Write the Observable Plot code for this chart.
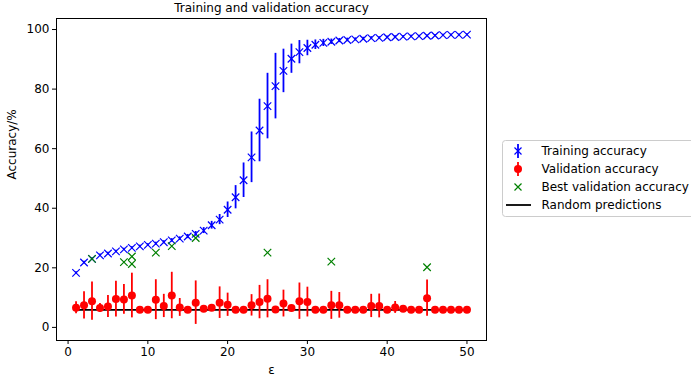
<!DOCTYPE html>
<html><head><meta charset="utf-8">
<script src="https://cdn.jsdelivr.net/npm/d3@7"></script>
<script src="https://cdn.jsdelivr.net/npm/@observablehq/plot@0.6"></script>
<style>
html,body{margin:0;padding:0;background:#fff;overflow:hidden}
#wrap{position:relative;width:691px;height:378px;font-family:"DejaVu Sans",sans-serif}
#legend{position:absolute;left:0;top:0}
</style></head><body><div id="wrap"></div><script>
const epochs = [1,2,3,4,5,6,7,8,9,10,11,12,13,14,15,16,17,18,19,20,21,22,23,24,25,26,27,28,29,30,31,32,33,34,35,36,37,38,39,40,41,42,43,44,45,46,47,48,49,50];
const trainAcc = [18.3,21.8,23.0,24.2,24.8,25.5,26.2,26.7,27.2,27.7,28.1,28.6,29.2,29.8,30.5,31.4,32.5,34.3,36.2,39.5,43.7,49.4,57.1,66.1,74.3,81.0,86.1,90.2,92.4,93.8,94.9,95.5,95.9,96.3,96.5,96.7,96.9,97.1,97.2,97.4,97.5,97.6,97.7,97.8,97.9,98.0,98.1,98.2,98.2,98.3];
const trainErr = [0.4,0.4,0.4,0.4,0.4,0.4,0.4,0.4,0.4,0.4,0.5,0.5,0.6,0.6,0.7,0.8,1.0,1.3,1.7,2.6,3.9,5.8,8.5,10.5,11.0,11.0,7.3,4.9,3.9,2.6,1.6,1.2,0.9,0.7,0.6,0.5,0.5,0.5,0.4,0.4,0.4,0.4,0.4,0.3,0.3,0.3,0.3,0.3,0.3,0.3];
const valAcc = [6.6,7.4,8.8,6.5,7.0,9.5,9.4,10.7,5.9,5.9,9.3,7.2,10.7,6.7,5.9,8.3,6.3,6.6,8.3,7.6,5.9,5.9,7.4,8.5,9.6,6.0,8.0,6.5,8.8,8.5,5.9,5.9,7.4,7.4,5.9,5.9,5.9,7.2,7.2,5.9,6.7,6.3,5.9,5.9,9.8,5.9,5.9,5.9,5.9,5.9];
const valErr = [2.0,4.6,6.4,1.5,3.7,6.0,5.0,7.5,0,0,6.7,3.9,7.8,3.0,0,7.3,0,1.0,5.3,3.9,0,0,3.6,5.6,6.4,0,4.5,0,6.1,5.0,0,0,4.7,4.3,0,0,0,3.9,4.0,0,2.0,0,0,0,6.1,0,0,0,0,0];
const bestEpoch = [3,7,8,8,11,13,16,25,33,45];
const bestAcc = [23.0,21.9,23.8,21.3,25.1,27.3,30.0,25.1,22.1,20.2];
const randomLevel = 5.9;
const xTicks = [0,10,20,30,40,50];
const yTicks = [0,20,40,60,80,100];
const legendLabels = ["Training accuracy","Validation accuracy","Best validation accuracy","Random predictions"];

const train = epochs.map((e,i)=>({e, y:trainAcc[i], lo:trainAcc[i]-trainErr[i], hi:trainAcc[i]+trainErr[i]}));
const val = epochs.map((e,i)=>({e, y:valAcc[i], lo:valAcc[i]-valErr[i], hi:valAcc[i]+valErr[i]}));
const best = bestEpoch.map((e,i)=>({e, y:bestAcc[i]}));

const chart = Plot.plot({
  width: 691, height: 378,
  marginLeft: 56, marginRight: 205, marginTop: 18, marginBottom: 38,
  style: {fontFamily: "DejaVu Sans, sans-serif", fontSize: "12px", color: "black", background: "white"},
  x: {domain: [-1.45, 52.45]},
  y: {domain: [-4.4, 103.7]},
  marks: [
    Plot.frame({stroke: "black", strokeWidth: 1}),
    Plot.axisX({ticks: xTicks, tickSize: 4, tickPadding: 3, fontSize: 12, label: null}),
    Plot.axisY({ticks: yTicks, tickSize: 4, tickPadding: 3, fontSize: 12, label: null}),
    Plot.ruleX(train, {x: "e", y1: "lo", y2: "hi", stroke: "#0000ff", strokeWidth: 1.8}),
    Plot.dot(train, {x: "e", y: "y", symbol: "times", r: 3.5, stroke: "#0000ff", strokeWidth: 1.2}),
    Plot.ruleY([randomLevel], {x1: epochs[0], x2: epochs[epochs.length-1], stroke: "black", strokeWidth: 1.8}),
    Plot.ruleX(val.filter(d=>d.hi>d.lo), {x: "e", y1: "lo", y2: "hi", stroke: "#ff0000", strokeWidth: 1.8}),
    Plot.dot(val, {x: "e", y: "y", r: 4, fill: "#ff0000"}),
    Plot.dot(best, {x: "e", y: "y", symbol: "times", r: 3.5, stroke: "#008000", strokeWidth: 1.2}),
    Plot.text(["Training and validation accuracy"], {frameAnchor: "top", dy: -10, lineAnchor: "middle", fontSize: 12, fill: "black"}),
    Plot.text(["Accuracy/%"], {frameAnchor: "left", dx: -44, rotate: -90, lineAnchor: "middle", fontSize: 12, fill: "black"}),
    Plot.text(["ε"], {frameAnchor: "bottom", dy: 30, lineAnchor: "middle", fontSize: 12, fill: "black"})
  ]
});
const wrap = document.getElementById("wrap");
wrap.appendChild(chart);

// legend
const ns = "http://www.w3.org/2000/svg";
const lg = document.createElementNS(ns, "svg");
lg.setAttribute("id","legend");
lg.setAttribute("width","691"); lg.setAttribute("height","378");
lg.style.fontFamily = "DejaVu Sans, sans-serif";
lg.style.fontSize = "12px";
let html = `<rect x="502.5" y="140.5" width="200" height="76" rx="3" fill="rgba(255,255,255,0.8)" stroke="#cccccc"/>`;
const rowsY = [151,169,187,205];
const cx = 518;
// training icon
html += `<line x1="${cx}" x2="${cx}" y1="${rowsY[0]-7}" y2="${rowsY[0]+7}" stroke="#0000ff" stroke-width="1.8"/>`;
html += `<path d="M${cx-3.5},${rowsY[0]-3.5}L${cx+3.5},${rowsY[0]+3.5}M${cx-3.5},${rowsY[0]+3.5}L${cx+3.5},${rowsY[0]-3.5}" stroke="#0000ff" stroke-width="1.2"/>`;
html += `<line x1="${cx}" x2="${cx}" y1="${rowsY[1]-7}" y2="${rowsY[1]+7}" stroke="#ff0000" stroke-width="1.8"/>`;
html += `<circle cx="${cx}" cy="${rowsY[1]}" r="4" fill="#ff0000"/>`;
html += `<path d="M${cx-3.5},${rowsY[2]-3.5}L${cx+3.5},${rowsY[2]+3.5}M${cx-3.5},${rowsY[2]+3.5}L${cx+3.5},${rowsY[2]-3.5}" stroke="#008000" stroke-width="1.2"/>`;
html += `<line x1="${cx-12}" x2="${cx+13}" y1="${rowsY[3]}" y2="${rowsY[3]}" stroke="black" stroke-width="1.8"/>`;
legendLabels.forEach((t,i)=>{ html += `<text x="541.5" y="${rowsY[i]}" dy="0.35em" fill="black">${t}</text>`; });
lg.innerHTML = html;
wrap.appendChild(lg);
</script></body></html>
